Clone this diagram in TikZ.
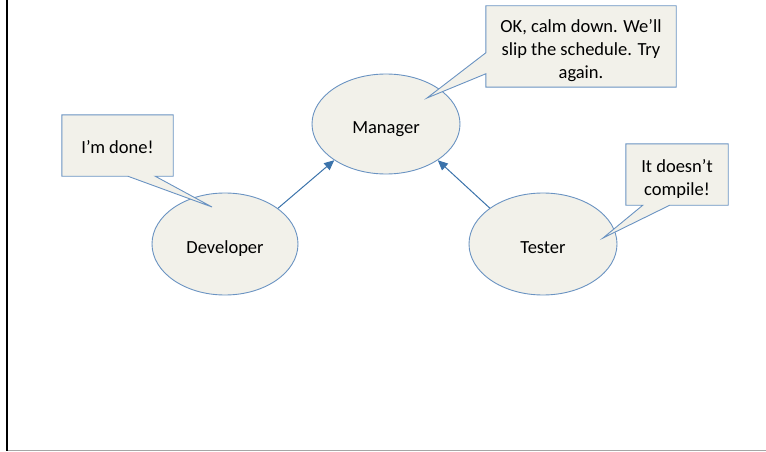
\documentclass[tikz,border=0pt]{standalone}
\usepackage{fontspec}
\setmainfont{Carlito}
\usetikzlibrary{shapes.geometric,arrows.meta}

\definecolor{bubblefill}{HTML}{F2F1EA}
\definecolor{bubbleline}{HTML}{6A93C2}
\definecolor{linkblue}{HTML}{3B73AB}
\definecolor{framegray}{HTML}{A6A6A6}

\tikzset{
  role/.style={ellipse, draw=bubbleline, fill=bubblefill, line width=0.9pt,
               inner sep=0pt, text height=18pt, text depth=0pt,
               font=\fontsize{18.5}{23}\selectfont},
  notebox/.style={rectangle, inner sep=0pt},
  notetext/.style={rectangle, inner sep=0pt, align=center, yshift=-4pt,
                   font=\fontsize{18.5}{23}\selectfont},
  noteshape/.style={draw=bubbleline, fill=bubblefill, line width=0.9pt, line join=miter},
  link/.style={draw=linkblue, line width=1pt,
               -{Triangle[length=10pt,width=9pt]}}
}

\begin{document}
\begin{tikzpicture}[x=1pt, y=-1pt]
  \useasboundingbox (0,0) rectangle (766,452);

  % page frame
  \draw[framegray, line width=1pt] (7,450.5) -- (766,450.5);
  \draw[black, line width=2.2pt] (7,0) -- (7,451);

  % roles
  \node[role, minimum width=148pt, minimum height=100pt] (mgr) at (386,124) {Manager};
  \node[role, minimum width=146pt, minimum height=102pt] (dev) at (225,244) {Developer};
  \node[role, minimum width=148pt, minimum height=102pt] (tst) at (543,244) {Tester};

  % speech bubble: developer
  \node[notebox, minimum width=111pt, minimum height=61pt] (devnote) at (117.5,145.5) {};
  \coordinate (devtip) at (212,207);
  \path[noteshape] (devnote.north west) -- (devnote.north east) -- (devnote.south east)
    -- ([xshift=-18pt]devnote.south east) -- (devtip)
    -- ([xshift=66pt]devnote.south west) -- (devnote.south west) -- cycle;
  \node[notetext, yshift=2pt] (devtext) at (devnote) {I’m done!};

  % speech bubble: tester
  \node[notebox, minimum width=102pt, minimum height=61pt] (tstnote) at (677,174.5) {};
  \coordinate (tsttip) at (603,238);
  \path[noteshape] (tstnote.north west) -- (tstnote.north east) -- (tstnote.south east)
    -- ([xshift=44pt]tstnote.south west) -- (tsttip)
    -- ([xshift=17pt]tstnote.south west) -- (tstnote.south west) -- cycle;
  \node[notetext] (tsttext) at (tstnote) {It doesn’t\\compile!};

  % speech bubble: manager
  \node[notebox, minimum width=190pt, minimum height=81pt] (mgrnote) at (581,46.5) {};
  \coordinate (mgrtip) at (427,98);
  \path[noteshape] (mgrnote.north west) -- (mgrnote.north east) -- (mgrnote.south east)
    -- (mgrnote.south west) -- ([yshift=-68pt]mgrnote.north west) -- (mgrtip)
    -- ([yshift=-47pt]mgrnote.north west) -- cycle;
  \node[notetext] (mgrtext) at (mgrnote) {OK, calm down. We’ll\\slip the schedule. Try\\again.};

  % reporting lines
  \draw[link] (dev.34) -- (mgr.215);
  \draw[link] (tst.146) -- (mgr.325);
\end{tikzpicture}
\end{document}
